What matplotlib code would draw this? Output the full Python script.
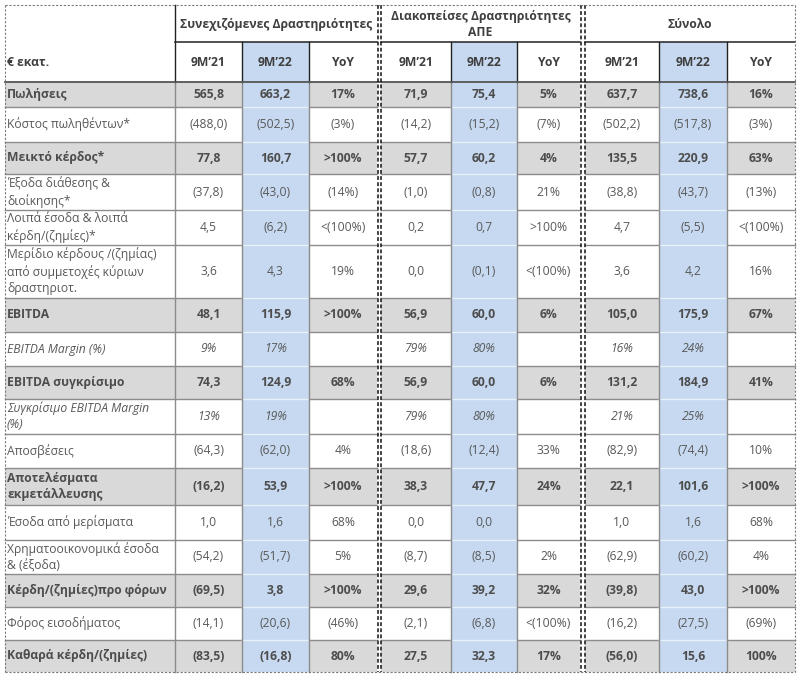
import matplotlib
matplotlib.use("Agg")
import matplotlib.pyplot as plt
from matplotlib.patches import Rectangle

plt.rcParams['font.family'] = ['Open Sans', 'DejaVu Sans']

# ---------------- data ----------------
sections = ["Συνεχιζόμενες Δραστηριότητες", "Διακοπείσες Δραστηριότητες\nΑΠΕ", "Σύνολο"]
col_headers = ["9Μ’21", "9Μ’22", "YoY"]
unit_label = "€ εκατ."

row_labels = [
    "Πωλήσεις",
    "Κόστος πωληθέντων*",
    "Μεικτό κέρδος*",
    "Έξοδα διάθεσης &\nδιοίκησης*",
    "Λοιπά έσοδα & λοιπά\nκέρδη/(ζημίες)*",
    "Μερίδιο κέρδους /(ζημίας)\nαπό συμμετοχές κύριων\nδραστηριοτ.",
    "EBITDA",
    "EBITDA Margin (%)",
    "EBITDA συγκρίσιμο",
    "Συγκρίσιμο EBITDA Margin\n(%)",
    "Αποσβέσεις",
    "Αποτελέσματα\nεκμετάλλευσης",
    "Έσοδα από μερίσματα",
    "Χρηματοοικονομικά έσοδα\n& (έξοδα)",
    "Κέρδη/(ζημίες)προ φόρων",
    "Φόρος εισοδήματος",
    "Καθαρά κέρδη/(ζημίες)",
]
bold_rows = [True, False, True, False, False, False, True, False, True, False, False, True, False, False, True, False, True]
italic_rows = [False, False, False, False, False, False, False, True, False, True, False, False, False, False, False, False, False]

cont_9m21 = ["565,8", "(488,0)", "77,8", "(37,8)", "4,5", "3,6", "48,1", "9%", "74,3", "13%", "(64,3)", "(16,2)", "1,0", "(54,2)", "(69,5)", "(14,1)", "(83,5)"]
cont_9m22 = ["663,2", "(502,5)", "160,7", "(43,0)", "(6,2)", "4,3", "115,9", "17%", "124,9", "19%", "(62,0)", "53,9", "1,6", "(51,7)", "3,8", "(20,6)", "(16,8)"]
cont_yoy = ["17%", "(3%)", ">100%", "(14%)", "<(100%)", "19%", ">100%", "", "68%", "", "4%", ">100%", "68%", "5%", ">100%", "(46%)", "80%"]

disc_9m21 = ["71,9", "(14,2)", "57,7", "(1,0)", "0,2", "0,0", "56,9", "79%", "56,9", "79%", "(18,6)", "38,3", "0,0", "(8,7)", "29,6", "(2,1)", "27,5"]
disc_9m22 = ["75,4", "(15,2)", "60,2", "(0,8)", "0,7", "(0,1)", "60,0", "80%", "60,0", "80%", "(12,4)", "47,7", "0,0", "(8,5)", "39,2", "(6,8)", "32,3"]
disc_yoy = ["5%", "(7%)", "4%", "21%", ">100%", "<(100%)", "6%", "", "6%", "", "33%", "24%", "", "2%", "32%", "<(100%)", "17%"]

tot_9m21 = ["637,7", "(502,2)", "135,5", "(38,8)", "4,7", "3,6", "105,0", "16%", "131,2", "21%", "(82,9)", "22,1", "1,0", "(62,9)", "(39,8)", "(16,2)", "(56,0)"]
tot_9m22 = ["738,6", "(517,8)", "220,9", "(43,7)", "(5,5)", "4,2", "175,9", "24%", "184,9", "25%", "(74,4)", "101,6", "1,6", "(60,2)", "43,0", "(27,5)", "15,6"]
tot_yoy = ["16%", "(3%)", "63%", "(13%)", "<(100%)", "16%", "67%", "", "41%", "", "10%", ">100%", "68%", "4%", ">100%", "(69%)", "100%"]

# ---------------- layout (pixels) ----------------
W, H = 800, 679
sec_cols = [[175, 242, 309, 377], [381, 451, 517, 580], [585, 659, 727, 795]]
label_x0 = 5
row_edges = [82, 107, 142, 174, 210, 245, 298, 332, 366, 399, 434, 468, 505, 540, 574, 607, 640, 672]
hdr_top, hdr_mid, hdr_bot = 5, 42, 82

GRAY = "#d9d9d9"
BLUE = "#c6d9f0"
LINE = "#8c8c8c"
TXT = "#595959"
TXT_B = "#4d4d4d"
HDR = "#3f3f3f"

fig = plt.figure(figsize=(W / 100, H / 100), dpi=100)
ax = fig.add_axes([0, 0, 1, 1])
ax.set_xlim(0, W)
ax.set_ylim(H, 0)
ax.axis('off')

values = [[cont_9m21, cont_9m22, cont_yoy],
          [disc_9m21, disc_9m22, disc_yoy],
          [tot_9m21, tot_9m22, tot_yoy]]

FS = 8.7

# fills
for r in range(len(row_labels)):
    y0, y1 = row_edges[r], row_edges[r + 1]
    if bold_rows[r]:
        ax.add_patch(Rectangle((label_x0, y0), sec_cols[0][0] - label_x0, y1 - y0, color=GRAY, lw=0, zorder=1))
        for sc in sec_cols:
            ax.add_patch(Rectangle((sc[0], y0), sc[3] - sc[0], y1 - y0, color=GRAY, lw=0, zorder=1))
for sc in sec_cols:
    ax.add_patch(Rectangle((sc[1], hdr_mid), sc[2] - sc[1], row_edges[-1] - hdr_mid, color=BLUE, lw=0, zorder=1.5))

# horizontal row lines
for r in range(1, len(row_labels)):
    y = row_edges[r]
    ax.plot([label_x0, sec_cols[0][0]], [y, y], color=LINE, lw=1, zorder=2)
    for sc in sec_cols:
        ax.plot([sc[0], sc[1]], [y, y], color=LINE, lw=1, zorder=2)
        ax.plot([sc[1], sc[2]], [y, y], color="#e8f0fa", lw=1, zorder=2)
        ax.plot([sc[2], sc[3]], [y, y], color=LINE, lw=1, zorder=2)

# vertical lines in body
for k, sc in enumerate(sec_cols):
    xs = sc[:3] if k == 0 else sc[1:3]
    for x in xs:
        ax.plot([x, x], [hdr_bot, row_edges[-1]], color=LINE, lw=1, zorder=2)

# header lines
ax.plot([sec_cols[0][0], sec_cols[0][0]], [hdr_top, hdr_bot], color="#222222", lw=1, zorder=3)
for sc in sec_cols:
    ax.plot([sc[0], sc[3]], [hdr_mid, hdr_mid], color="#222222", lw=1.1, zorder=3)
    for x in sc[1:3]:
        ax.plot([x, x], [hdr_mid, hdr_bot], color="#222222", lw=1, zorder=3)
ax.plot([label_x0, W - 5], [hdr_bot, hdr_bot], color="#555555", lw=1.3, zorder=3)

# double dashed separators
for x in (377.5, 381, 580.5, 584.5):
    ax.plot([x, x], [hdr_top, row_edges[-1]], color="#111111", lw=1.1,
            dashes=(2.5, 1.5), zorder=4)

# outer border dashed
bx = dict(color="#7a7a7a", lw=0.8, dashes=(2, 1.5), zorder=4)
ax.plot([label_x0, 795], [hdr_top, hdr_top], **bx)
ax.plot([label_x0, 795], [row_edges[-1], row_edges[-1]], **bx)
ax.plot([label_x0, label_x0], [hdr_top, row_edges[-1]], **bx)
ax.plot([795, 795], [hdr_top, row_edges[-1]], **bx)

# header text
for i, sc in enumerate(sec_cols):
    ax.text((sc[0] + sc[3]) / 2, (hdr_top + hdr_mid) / 2 + 1, sections[i], ha='center', va='center',
            fontsize=FS, fontweight='bold', color=HDR, linespacing=1.25, zorder=5)
    for j in range(3):
        ax.text((sc[j] + sc[j + 1]) / 2, (hdr_mid + hdr_bot) / 2, col_headers[j], ha='center', va='center',
                fontsize=FS, fontweight='bold', color=HDR, zorder=5)
ax.text(label_x0 + 2, (hdr_mid + hdr_bot) / 2, unit_label, ha='left', va='center',
        fontsize=FS, fontweight='bold', color=HDR, zorder=5)

# body text
for r, lab in enumerate(row_labels):
    yc = (row_edges[r] + row_edges[r + 1]) / 2
    wt = 'bold' if bold_rows[r] else 'normal'
    st = 'italic' if italic_rows[r] else 'normal'
    col = TXT_B if bold_rows[r] else TXT
    ax.text(label_x0 + 2, yc, lab, ha='left', va='center', fontsize=FS, fontweight=wt,
            fontstyle=st, color=col, linespacing=1.35, zorder=5)
    for i, sc in enumerate(sec_cols):
        for j in range(3):
            ax.text((sc[j] + sc[j + 1]) / 2, yc, values[i][j][r], ha='center', va='center',
                    fontsize=FS, fontweight=wt, fontstyle=st, color=col, zorder=5)

fig.savefig("out.png", dpi=100)
